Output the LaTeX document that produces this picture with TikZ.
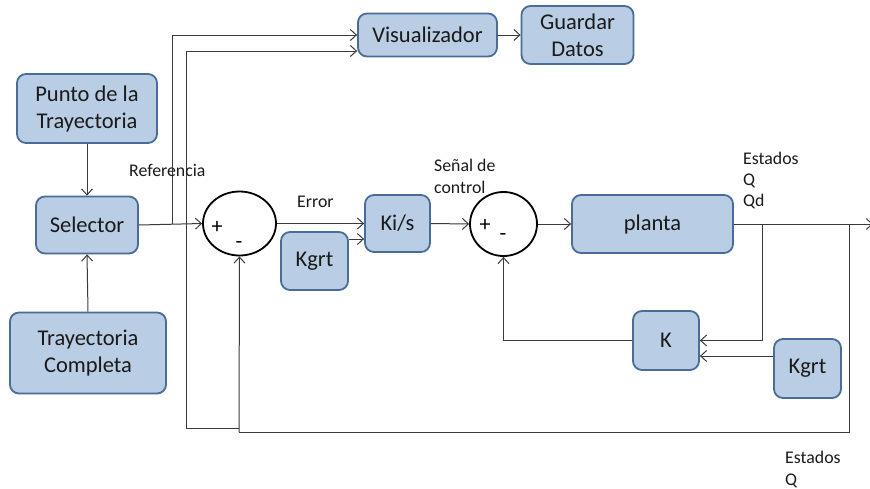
\documentclass[tikz,border=0pt]{standalone}
\usepackage{fontspec}
\setmainfont{Carlito}
\usetikzlibrary{arrows.meta,shapes.geometric,calc}
\definecolor{boxfill}{HTML}{B9CDE5}
\definecolor{boxline}{HTML}{4A6C99}
\definecolor{wire}{HTML}{3A3A3A}
\definecolor{ink}{HTML}{1A1A1A}
\tikzset{
  blk/.style={draw=boxline, line width=1.8pt, fill=boxfill, rounded corners=9pt,
    inner sep=0pt, align=center, text=ink, font=\fontsize{22.5}{27}\selectfont},
  sumj/.style={draw=black, line width=1.8pt, ellipse, inner sep=0pt},
  arr/.style={draw=wire, line width=1pt, -{Straight Barb[length=6pt,width=11pt]}},
  wireln/.style={draw=wire, line width=1pt},
  lbl/.style={text=ink, inner sep=0pt, font=\fontsize{17.8}{21}\selectfont},
  sgn/.style={text=black, inner sep=0pt, font=\fontsize{22}{24}\selectfont},
}
\begin{document}
\begin{tikzpicture}[x=1pt,y=-1pt]
\useasboundingbox (0,0) rectangle (870,488);

% blocks
\node[blk, minimum width=140pt, minimum height=69pt] (punto) at (87,108.5) {Punto de la\\Trayectoria};
\node[blk, minimum width=102pt, minimum height=57pt] (selector) at (87,225) {Selector};
\node[blk, minimum width=156pt, minimum height=81pt] (tray) at (88,353) {Trayectoria\\Completa};
\node[blk, minimum width=139pt, minimum height=43pt] (vis) at (427.5,35) {Visualizador};
\node[blk, minimum width=112pt, minimum height=58pt] (guardar) at (577.5,35) {Guardar\\Datos};
\node[blk, minimum width=67pt, minimum height=58pt] (kgrtA) at (314.5,261) {Kgrt};
\node[blk, minimum width=65pt, minimum height=57pt] (kis) at (397.5,223.5) {Ki/s};
\node[blk, minimum width=161pt, minimum height=58pt] (planta) at (652.5,224) {planta};
\node[blk, minimum width=66pt, minimum height=59pt] (kk) at (666,340.5) {K};
\node[blk, minimum width=67pt, minimum height=59pt] (kgrtB) at (807.5,368.5) {Kgrt};

% summing junctions
\node[sumj, minimum width=73pt, minimum height=64pt] (sumA) at (239.5,223.5) {};
\node[sumj, minimum width=67pt, minimum height=64pt] (sumB) at (503.5,224) {};
\node[sgn] at (217,227) {+};
\node[sgn] at (239,245) {-};
\node[sgn] at (485,225) {+};
\node[sgn] at (503,237) {-};

% branch points
\coordinate (refTap) at (172,224);
\coordinate (outA) at (762,224);
\coordinate (outB) at (849,224);
\coordinate (lowCorner) at (239,432);
\coordinate (visTap) at (239,428);
\coordinate (visLeft) at (186,428);
\coordinate (outEnd) at (873,224);

% connectors
\draw[arr] (punto.south) -- (selector.north);
\draw[arr] (tray.north) -- (selector.south);
\draw[arr] (selector.east) -- (sumA.west);
\draw[arr] (refTap) |- (vis.west);
\draw[arr] (visTap) -- (visLeft) |- ([yshift=-16pt]vis.west);
\draw[arr] (vis.east) -- (guardar.west);
\draw[arr] (sumA.east) -- (kis.west |- sumA.east);
\draw[arr] ([yshift=22pt]kgrtA.east) -- ([yshift=22pt]kgrtA.east -| kis.west);
\draw[arr] (kis.east) -- (sumB.west);
\draw[arr] (sumB.east) -- (planta.west);
\draw[arr] (planta.east) -- (outEnd);
\draw[arr] (outA) |- (kk.east);
\draw[arr] ([yshift=12.5pt]kgrtB.west) -- ([yshift=12.5pt]kgrtB.west -| kk.east);
\draw[arr] (kk.west) -| (sumB.south);
\draw[wireln] (outB) |- (lowCorner);
\draw[arr] (lowCorner) -- (sumA.south);

% signal labels
\node[lbl, anchor=base west] (lRef) at (129,176) {Referencia};
\node[lbl, anchor=base west] (lErr) at (297,207) {Error};
\node[lbl, anchor=base west] (lSen1) at (434,171) {Señal de};
\node[lbl, anchor=base west] (lSen2) at (434,193) {control};
\node[lbl, anchor=base west] (lEst1) at (743,164) {Estados};
\node[lbl, anchor=base west] (lEst2) at (743,185) {Q};
\node[lbl, anchor=base west] (lEst3) at (743,206) {Qd};
\node[lbl, anchor=base west] (lEst4) at (785,463) {Estados};
\node[lbl, anchor=base west] (lEst5) at (785,485) {Q};
\end{tikzpicture}
\end{document}
